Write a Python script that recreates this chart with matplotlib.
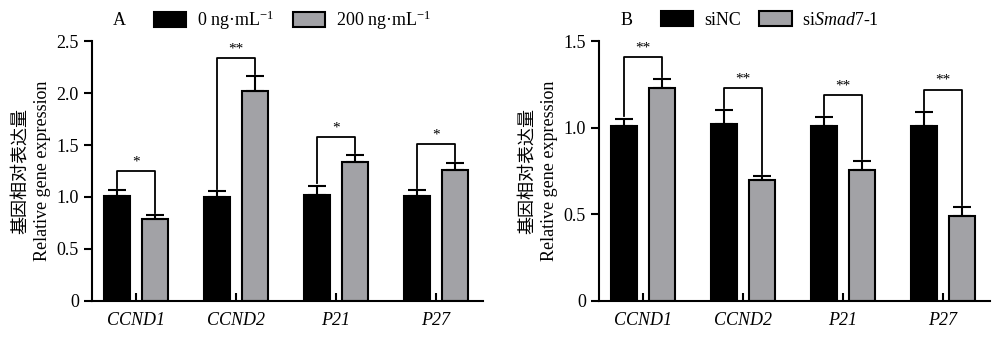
import numpy as np
import matplotlib
matplotlib.use("Agg")
import matplotlib.pyplot as plt

plt.rcParams['font.family'] = ['Liberation Serif', 'Noto Sans CJK SC']
plt.rcParams['mathtext.fontset'] = 'custom'
plt.rcParams['mathtext.rm'] = 'Liberation Serif'
plt.rcParams['mathtext.it'] = 'Liberation Serif:italic'

genes = ["CCND1", "CCND2", "P21", "P27"]

# panel A
a_ctrl = [1.01, 1.00, 1.02, 1.01]
a_ctrl_err = [0.06, 0.06, 0.09, 0.06]
a_treat = [0.79, 2.02, 1.34, 1.26]
a_treat_err = [0.04, 0.14, 0.06, 0.07]
a_sig = ["*", "**", "*", "*"]
a_labels = ["0 ng·mL$^{\\mathrm{-}1}$", "200 ng·mL$^{\\mathrm{-}1}$"]

# panel B
b_ctrl = [1.01, 1.02, 1.01, 1.01]
b_ctrl_err = [0.04, 0.08, 0.05, 0.08]
b_treat = [1.23, 0.70, 0.755, 0.49]
b_treat_err = [0.05, 0.02, 0.05, 0.05]
b_sig = ["**", "**", "**", "**"]
b_labels = ["siNC", "si$\\it{Smad7}$-1"]

gray = "#a2a2a6"


def draw_panel(ax, letter, ctrl, ctrl_err, treat, treat_err, sig, labels,
               ymax, ystep, bracket_off, gap):
    x = np.arange(len(genes))
    w = 0.26
    off = 0.19
    ekw = dict(elinewidth=1.5, capthick=1.5, ecolor="black")
    b1 = ax.bar(x - off, ctrl, w, color="black", edgecolor="black", linewidth=1.5,
                yerr=[np.zeros(len(x)), ctrl_err], capsize=6.5, error_kw=ekw,
                label=labels[0])
    b2 = ax.bar(x + off, treat, w, color=gray, edgecolor="black", linewidth=1.5,
                yerr=[np.zeros(len(x)), treat_err], capsize=6.5, error_kw=ekw,
                label=labels[1])

    # significance brackets
    for i in range(len(x)):
        top1 = ctrl[i] + ctrl_err[i]
        top2 = treat[i] + treat_err[i]
        h = max(top1, top2) + bracket_off
        ax.plot([x[i] - off, x[i] - off, x[i] + off, x[i] + off],
                [top1 + gap, h, h, top2 + gap], color="black", lw=1.3)
        ax.text(x[i], h + gap, sig[i], ha="center", va="bottom", fontsize=11)

    ax.set_xlim(-0.44, 3.47)
    ax.set_ylim(0, ymax)
    yt = np.arange(0, ymax + 1e-9, ystep)
    ax.set_yticks(yt)
    ax.set_yticklabels(["0"] + [f"{v:.1f}" for v in yt[1:]])
    ax.set_xticks(x)
    ax.set_xticklabels(genes, fontstyle="italic")
    ax.tick_params(axis="x", direction="in", length=6, width=1.5, labelsize=13, pad=8)
    ax.tick_params(axis="y", direction="out", length=6, width=1.5, labelsize=13)
    for s in ["top", "right"]:
        ax.spines[s].set_visible(False)
    for s in ["left", "bottom"]:
        ax.spines[s].set_linewidth(1.5)
    ax.set_ylabel("基因相对表达量\nRelative gene expression", fontsize=13,
                  fontweight="light", labelpad=4, linespacing=1.4)

    ax.text(0.07, 1.08, letter, transform=ax.transAxes, fontsize=13,
            ha="center", va="center")
    ax.legend(handles=[b1, b2], labels=labels, ncol=2, frameon=False,
              loc="center left", bbox_to_anchor=(0.14, 1.08), fontsize=13,
              handlelength=1.8, handleheight=0.9, columnspacing=1.0,
              handletextpad=0.6, borderaxespad=0)


fig = plt.figure(figsize=(10, 3.4), dpi=100)
ax1 = fig.add_axes([0.092, 0.115, 0.391, 0.764])
ax2 = fig.add_axes([0.599, 0.115, 0.391, 0.764])

draw_panel(ax1, "A", a_ctrl, a_ctrl_err, a_treat, a_treat_err, a_sig, a_labels,
           2.5, 0.5, 0.18, 0.02)
draw_panel(ax2, "B", b_ctrl, b_ctrl_err, b_treat, b_treat_err, b_sig, b_labels,
           1.5, 0.5, 0.13, 0.015)

fig.savefig("out.png", dpi=100)
